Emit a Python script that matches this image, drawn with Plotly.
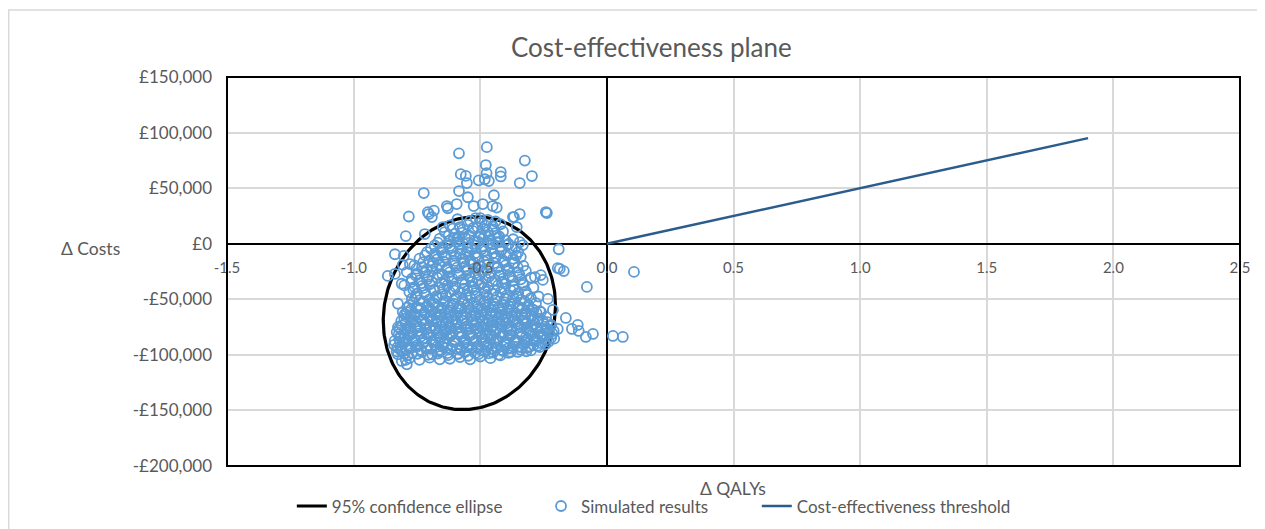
import numpy as np
import plotly.graph_objects as go

# ----------------------------------------------------------------------------
# Data
# ----------------------------------------------------------------------------
x_tick_vals = [-1.5, -1.0, -0.5, 0.0, 0.5, 1.0, 1.5, 2.0, 2.5]
x_tick_text = ["-1.5", "-1.0", "-0.5", "0.0", "0.5", "1.0", "1.5", "2.0", "2.5"]
y_tick_vals = [150000, 100000, 50000, 0, -50000, -100000, -150000, -200000]
y_tick_text = ["£150,000", "£100,000", "£50,000", "£0",
               "-£50,000", "-£100,000", "-£150,000", "-£200,000"]

# cost-effectiveness threshold (£50,000 per QALY)
threshold_qalys = [0.0, 1.9]
threshold_costs = [0, 95000]

# 95% confidence ellipse: centre, half-widths and correlation
ellipse_centre_qaly = -0.543
ellipse_centre_cost = -62500
ellipse_qaly_radius = 0.34
ellipse_cost_radius = 86750
ellipse_correlation = 0.08

# simulated results - dense core (QALY, cost)
sim_core = [
    (-0.81, -105500), (-0.78, -103000), (-0.74, -104500), (-0.70, -102500), (-0.66, -104000),
    (-0.62, -103500), (-0.58, -102000), (-0.54, -104000), (-0.50, -101500), (-0.46, -103000),
    (-0.42, -100500), (-0.79, -108500),
    (-0.83, -97000), (-0.80, -99000), (-0.77, -98500), (-0.73, -97500), (-0.69, -99500),
    (-0.66, -97000), (-0.63, -98500), (-0.59, -99000), (-0.56, -97500), (-0.52, -98500),
    (-0.48, -97000), (-0.45, -98000), (-0.41, -96500), (-0.38, -97500), (-0.34, -95500),
    (-0.30, -96000),
    (-0.815, -95500), (-0.775, -94000), (-0.735, -95500), (-0.695, -94500), (-0.655, -96000),
    (-0.615, -94500), (-0.575, -95500), (-0.535, -94000), (-0.495, -96000), (-0.455, -94500),
    (-0.415, -95500), (-0.375, -94000), (-0.335, -93500), (-0.305, -92500), (-0.265, -93000),
    (-0.84, -91000), (-0.81, -93000), (-0.78, -92500), (-0.75, -91500), (-0.71, -93000),
    (-0.68, -91000), (-0.65, -92500), (-0.61, -92000), (-0.58, -93500), (-0.55, -91000),
    (-0.51, -92500), (-0.47, -91500), (-0.44, -93000), (-0.40, -91000), (-0.37, -92500),
    (-0.33, -90500), (-0.29, -91500), (-0.26, -89500), (-0.23, -88000),
    (-0.805, -89500), (-0.765, -88000), (-0.725, -89500), (-0.685, -88500), (-0.645, -90000),
    (-0.605, -88500), (-0.565, -89500), (-0.525, -88000), (-0.485, -90000), (-0.445, -88500),
    (-0.405, -89500), (-0.365, -88000), (-0.325, -89000), (-0.285, -87500),
    (-0.82, -85500), (-0.79, -87000), (-0.76, -86000), (-0.72, -85000), (-0.69, -87500),
    (-0.66, -86500), (-0.63, -85000), (-0.60, -87000), (-0.56, -86000), (-0.53, -84500),
    (-0.49, -86500), (-0.46, -85500), (-0.43, -87000), (-0.39, -85000), (-0.36, -86500),
    (-0.32, -84000), (-0.28, -85500), (-0.25, -83500), (-0.22, -84500),
    (-0.815, -83500), (-0.775, -82000), (-0.735, -83500), (-0.695, -82500), (-0.655, -84000),
    (-0.615, -82500), (-0.575, -83500), (-0.535, -82000), (-0.495, -84000), (-0.455, -82500),
    (-0.415, -83500), (-0.375, -82000), (-0.335, -83000), (-0.295, -81500), (-0.255, -82500),
    (-0.215, -81000),
    (-0.83, -79500), (-0.80, -81000), (-0.77, -80000), (-0.74, -78500), (-0.71, -81500),
    (-0.67, -80500), (-0.64, -79000), (-0.61, -81000), (-0.58, -79500), (-0.54, -80500),
    (-0.51, -78500), (-0.48, -81000), (-0.44, -79500), (-0.41, -80500), (-0.38, -78000),
    (-0.34, -80000), (-0.31, -78500), (-0.27, -79500), (-0.24, -77500), (-0.21, -78500),
    (-0.795, -77500), (-0.755, -76000), (-0.715, -77500), (-0.675, -76500), (-0.635, -78000),
    (-0.595, -76500), (-0.555, -77500), (-0.515, -76000), (-0.475, -78000), (-0.435, -76500),
    (-0.395, -77500), (-0.355, -76000), (-0.315, -77000), (-0.275, -75500), (-0.235, -76500),
    (-0.81, -73500), (-0.78, -75000), (-0.75, -74000), (-0.72, -72500), (-0.68, -75500),
    (-0.65, -73500), (-0.62, -74500), (-0.59, -72500), (-0.55, -74500), (-0.52, -73000),
    (-0.49, -75000), (-0.45, -73500), (-0.42, -72000), (-0.39, -74500), (-0.35, -73000),
    (-0.32, -71500), (-0.29, -73500), (-0.25, -72000), (-0.22, -73000),
    (-0.795, -71500), (-0.755, -70000), (-0.715, -71500), (-0.675, -70500), (-0.635, -72000),
    (-0.595, -70500), (-0.555, -71500), (-0.515, -70000), (-0.475, -72000), (-0.435, -70500),
    (-0.395, -71500), (-0.355, -70000), (-0.315, -71000), (-0.275, -69500), (-0.235, -70500),
    (-0.80, -67500), (-0.77, -69000), (-0.73, -68000), (-0.70, -66500), (-0.67, -69500),
    (-0.63, -67500), (-0.60, -68500), (-0.57, -66500), (-0.53, -68500), (-0.50, -67000),
    (-0.47, -69000), (-0.43, -67500), (-0.40, -66000), (-0.37, -68500), (-0.33, -67000),
    (-0.30, -65500), (-0.27, -67500), (-0.24, -66000),
    (-0.775, -65500), (-0.735, -64000), (-0.695, -65500), (-0.655, -64500), (-0.615, -66000),
    (-0.575, -64500), (-0.535, -65500), (-0.495, -64000), (-0.455, -66000), (-0.415, -64500),
    (-0.375, -65500), (-0.335, -64000), (-0.295, -65000),
    (-0.79, -61500), (-0.76, -63000), (-0.72, -62000), (-0.69, -60500), (-0.66, -63500),
    (-0.62, -61500), (-0.59, -62500), (-0.56, -60500), (-0.52, -62500), (-0.49, -61000),
    (-0.46, -63000), (-0.42, -61500), (-0.39, -60000), (-0.36, -62500), (-0.32, -61000),
    (-0.29, -59500), (-0.26, -61500),
    (-0.775, -59500), (-0.735, -58000), (-0.695, -59500), (-0.655, -58500), (-0.615, -60000),
    (-0.575, -58500), (-0.535, -59500), (-0.495, -58000), (-0.455, -60000), (-0.415, -58500),
    (-0.375, -59500), (-0.335, -58000), (-0.295, -59000),
    (-0.78, -55500), (-0.75, -57000), (-0.71, -56000), (-0.68, -54500), (-0.65, -57500),
    (-0.61, -55500), (-0.58, -56500), (-0.55, -54500), (-0.51, -56500), (-0.48, -55000),
    (-0.45, -57000), (-0.41, -55500), (-0.38, -54000), (-0.35, -56500), (-0.31, -55000),
    (-0.28, -53500),
    (-0.765, -53000), (-0.725, -52000), (-0.685, -53500), (-0.645, -52500), (-0.605, -54000),
    (-0.565, -52500), (-0.525, -53500), (-0.485, -52000), (-0.445, -54000), (-0.405, -52500),
    (-0.365, -53500), (-0.325, -52000),
    (-0.77, -49500), (-0.74, -51000), (-0.70, -50000), (-0.67, -48500), (-0.64, -51500),
    (-0.60, -49500), (-0.57, -50500), (-0.54, -48500), (-0.50, -50500), (-0.47, -49000),
    (-0.44, -51000), (-0.40, -49500), (-0.37, -48000), (-0.34, -50500), (-0.30, -49000),
    (-0.27, -47500),
    (-0.755, -47500), (-0.715, -46000), (-0.675, -47500), (-0.635, -46500), (-0.595, -48000),
    (-0.555, -46500), (-0.515, -47500), (-0.475, -46000), (-0.435, -48000), (-0.395, -46500),
    (-0.355, -47500), (-0.315, -46000),
    (-0.78, -43500), (-0.75, -45000), (-0.72, -44000), (-0.68, -42500), (-0.65, -45500),
    (-0.62, -43500), (-0.58, -44500), (-0.55, -42500), (-0.52, -44500), (-0.48, -43000),
    (-0.45, -45000), (-0.42, -43500), (-0.38, -42000), (-0.35, -44500), (-0.32, -43000),
    (-0.765, -41000), (-0.725, -40000), (-0.685, -41500), (-0.645, -40500), (-0.605, -42000),
    (-0.565, -40500), (-0.525, -41500), (-0.485, -40000), (-0.445, -42000), (-0.405, -40500),
    (-0.365, -41500),
    (-0.80, -37500), (-0.76, -39000), (-0.73, -38000), (-0.70, -36500), (-0.66, -39500),
    (-0.63, -37500), (-0.60, -38500), (-0.56, -36500), (-0.53, -38500), (-0.50, -37000),
    (-0.47, -39000), (-0.43, -37500), (-0.40, -36000), (-0.37, -38500), (-0.33, -37000),
    (-0.29, -39500),
    (-0.77, -31500), (-0.74, -33000), (-0.71, -32000), (-0.67, -30500), (-0.64, -33500),
    (-0.61, -31500), (-0.57, -32500), (-0.54, -30500), (-0.51, -32500), (-0.48, -31000),
    (-0.44, -33000), (-0.41, -31500), (-0.38, -30000), (-0.34, -32000), (-0.30, -30500),
    (-0.755, -28500), (-0.705, -29500), (-0.665, -28000), (-0.625, -29500), (-0.585, -28500),
    (-0.545, -29000), (-0.505, -28000), (-0.465, -29500), (-0.425, -28500), (-0.385, -29000),
    (-0.345, -28000),
    (-0.79, -25500), (-0.75, -27000), (-0.72, -26000), (-0.69, -24500), (-0.65, -27500),
    (-0.62, -25500), (-0.59, -26500), (-0.55, -24500), (-0.52, -26500), (-0.49, -25000),
    (-0.46, -27000), (-0.42, -25500), (-0.39, -24000), (-0.35, -26000), (-0.32, -24500),
    (-0.76, -19500), (-0.73, -21000), (-0.69, -20000), (-0.66, -18500), (-0.63, -21500),
    (-0.60, -19500), (-0.56, -20500), (-0.53, -18500), (-0.50, -20500), (-0.47, -19000),
    (-0.43, -21000), (-0.40, -19500), (-0.37, -18000), (-0.33, -20000),
    (-0.725, -16500), (-0.685, -17500), (-0.645, -16000), (-0.605, -17500), (-0.565, -16500),
    (-0.525, -17000), (-0.485, -16000), (-0.445, -17500), (-0.405, -16500), (-0.365, -17000),
    (-0.74, -13500), (-0.70, -15000), (-0.67, -14000), (-0.64, -12500), (-0.60, -15500),
    (-0.57, -13500), (-0.54, -14500), (-0.51, -12500), (-0.47, -14500), (-0.44, -13000),
    (-0.41, -15000), (-0.37, -13500), (-0.34, -12000),
    (-0.71, -7500), (-0.68, -9000), (-0.65, -8000), (-0.61, -6500), (-0.58, -9500),
    (-0.55, -7500), (-0.52, -8500), (-0.48, -6500), (-0.45, -8500), (-0.42, -7000),
    (-0.39, -9000), (-0.35, -7500),
    (-0.695, -4500), (-0.655, -5500), (-0.615, -4000), (-0.575, -5500), (-0.535, -4500),
    (-0.495, -5000), (-0.455, -4000), (-0.415, -5500), (-0.375, -4500),
    (-0.68, -1500), (-0.65, -3000), (-0.62, -2000), (-0.58, -500), (-0.55, -3500),
    (-0.52, -1500), (-0.49, -2500), (-0.45, -500), (-0.42, -2500), (-0.39, -1000),
    (-0.36, -3000),
    (-0.66, 4500), (-0.62, 3000), (-0.59, 4000), (-0.56, 5500), (-0.52, 2500),
    (-0.49, 4500), (-0.46, 3500), (-0.43, 5500), (-0.40, 3000), (-0.37, 4000),
    (-0.625, 7000), (-0.585, 6500), (-0.545, 7500), (-0.505, 6000), (-0.465, 7500),
    (-0.425, 6500),
    (-0.64, 10500), (-0.60, 9000), (-0.57, 10000), (-0.53, 11500), (-0.50, 8500),
    (-0.47, 10500), (-0.44, 9500), (-0.41, 11000),
    (-0.62, 16500), (-0.58, 15000), (-0.55, 17000), (-0.51, 14500), (-0.48, 16500),
    (-0.45, 15500), (-0.42, 17500),
    (-0.59, 22000), (-0.54, 20500), (-0.50, 23000), (-0.47, 21500), (-0.44, 20000),
]

# simulated results - further points filling the densest part of the cloud
sim_fill = [
    (-0.825, -99500), (-0.787, -100500), (-0.748, -99000), (-0.706, -100000), (-0.668, -98800),
    (-0.627, -100300), (-0.588, -99200), (-0.548, -100800), (-0.507, -99400), (-0.468, -98600),
    (-0.428, -99800), (-0.388, -98200), (-0.352, -97400), (-0.318, -96800),
    (-0.828, -93500), (-0.792, -94500), (-0.752, -93000), (-0.712, -94200), (-0.672, -92800),
    (-0.632, -93800), (-0.592, -94600), (-0.552, -93200), (-0.512, -94000), (-0.472, -92600),
    (-0.432, -93600), (-0.392, -94400), (-0.352, -92900), (-0.312, -93700), (-0.272, -91800),
    (-0.242, -90500),
    (-0.838, -87500), (-0.798, -88400), (-0.758, -86900), (-0.718, -87800), (-0.678, -86600),
    (-0.638, -88100), (-0.598, -87200), (-0.558, -88600), (-0.518, -86800), (-0.478, -87700),
    (-0.438, -86400), (-0.398, -88200), (-0.358, -87000), (-0.318, -86300), (-0.278, -87900),
    (-0.238, -86100), (-0.208, -85400),
    (-0.822, -81500), (-0.782, -82400), (-0.742, -80900), (-0.702, -81800), (-0.662, -80600),
    (-0.622, -82100), (-0.582, -81200), (-0.542, -82600), (-0.502, -80800), (-0.462, -81700),
    (-0.422, -80400), (-0.382, -82200), (-0.342, -81000), (-0.302, -80300), (-0.262, -81900),
    (-0.228, -80100),
    (-0.818, -75500), (-0.778, -76400), (-0.738, -74900), (-0.698, -75800), (-0.658, -74600),
    (-0.618, -76100), (-0.578, -75200), (-0.538, -76600), (-0.498, -74800), (-0.458, -75700),
    (-0.418, -74400), (-0.378, -76200), (-0.338, -75000), (-0.298, -74300), (-0.258, -75900),
    (-0.222, -74100),
    (-0.812, -69500), (-0.772, -70400), (-0.732, -68900), (-0.692, -69800), (-0.652, -68600),
    (-0.612, -70100), (-0.572, -69200), (-0.532, -70600), (-0.492, -68800), (-0.452, -69700),
    (-0.412, -68400), (-0.372, -70200), (-0.332, -69000), (-0.292, -68300), (-0.252, -69900),
    (-0.798, -63500), (-0.758, -64400), (-0.718, -62900), (-0.678, -63800), (-0.638, -62600),
    (-0.598, -64100), (-0.558, -63200), (-0.518, -64600), (-0.478, -62800), (-0.438, -63700),
    (-0.398, -62400), (-0.358, -64200), (-0.318, -63000), (-0.278, -62300),
    (-0.788, -57500), (-0.748, -58400), (-0.708, -56900), (-0.668, -57800), (-0.628, -56600),
    (-0.588, -58100), (-0.548, -57200), (-0.508, -58600), (-0.468, -56800), (-0.428, -57700),
    (-0.388, -56400), (-0.348, -58200), (-0.308, -57000),
    (-0.772, -34500), (-0.732, -35400), (-0.692, -33900), (-0.652, -34800), (-0.612, -33600),
    (-0.572, -35100), (-0.532, -34200), (-0.492, -35600), (-0.452, -33800), (-0.412, -34700),
    (-0.372, -33400), (-0.332, -35200),
    (-0.752, -22500), (-0.712, -23400), (-0.672, -21900), (-0.632, -22800), (-0.592, -21600),
    (-0.552, -23100), (-0.512, -22200), (-0.472, -23600), (-0.432, -21800), (-0.392, -22700),
    (-0.352, -21400),
    (-0.718, -10500), (-0.678, -11400), (-0.638, -9900), (-0.598, -10800), (-0.558, -9600),
    (-0.518, -11100), (-0.478, -10200), (-0.438, -11600), (-0.398, -9800), (-0.358, -10700),
    (-0.668, 1000), (-0.628, 100), (-0.588, 1600), (-0.548, 700), (-0.508, 1900),
    (-0.468, 400), (-0.428, 1300), (-0.388, -200),
    (-0.608, 13500), (-0.568, 12600), (-0.528, 14100), (-0.488, 13200), (-0.448, 12800),
]

# simulated results - scattered tail points (QALY, cost)
sim_tails = [
    (-0.584, 81300), (-0.474, 86900), (-0.478, 70800), (-0.324, 74800), (-0.577, 62600),
    (-0.557, 61000), (-0.475, 63500), (-0.419, 64500), (-0.419, 60500), (-0.296, 60900),
    (-0.344, 54600), (-0.553, 54600), (-0.506, 57000), (-0.482, 58000), (-0.466, 56400),
    (-0.584, 47400), (-0.723, 45600), (-0.446, 43600), (-0.549, 41800), (-0.632, 33900),
    (-0.593, 35700), (-0.526, 33900), (-0.490, 35700), (-0.451, 33900), (-0.435, 32500),
    (-0.703, 26700), (-0.691, 24000), (-0.683, 29800), (-0.782, 24500), (-0.344, 26700),
    (-0.367, 24000), (-0.241, 28500), (-0.518, 23100), (-0.494, 19500), (-0.648, 15000),
    (-0.794, 6900), (-0.719, 8700), (-0.604, 5100), (-0.344, 1500), (-0.438, 1500),
    (-0.332, -1200), (-0.190, -5000), (-0.865, -29000), (-0.837, -9500), (-0.802, -11000),
    (-0.806, -19000), (-0.778, -18300), (-0.837, -27200), (-0.810, -36000), (-0.825, -54000),
    (-0.806, -61500), (-0.825, -75000), (-0.817, -88500), (-0.810, -96600), (-0.794, -104500),
    (-0.186, -22700), (-0.170, -24600), (-0.079, -38900), (0.107, -25400), (-0.194, -21900),
    (-0.284, -30000), (-0.261, -28200), (-0.253, -32600), (-0.233, -49700), (-0.213, -59600),
    (-0.162, -66800), (-0.194, -76700), (-0.138, -76700), (-0.115, -73100), (-0.111, -78500),
    (-0.083, -83900), (-0.055, -81200), (0.024, -83000), (0.063, -83900), (-0.265, -60600),
    (-0.356, 15000), (-0.371, 24000), (-0.237, 27600), (-0.707, 28400), (-0.628, 31900),
]

# ----------------------------------------------------------------------------
GREY_TEXT = "#595959"
FONT = "Lato, 'Liberation Sans', sans-serif"

sim_points = sim_core + sim_fill + sim_tails
sim_qalys = [p[0] for p in sim_points]
sim_costs = [p[1] for p in sim_points]

# correlation ellipse: x = cx + rx cos t, y = cy + ry cos(t - acos(rho))
t = np.linspace(0, 2 * np.pi, 241)
phase = np.arccos(ellipse_correlation)
ell_x = ellipse_centre_qaly + ellipse_qaly_radius * np.cos(t)
ell_y = ellipse_centre_cost + ellipse_cost_radius * np.cos(t - phase)

fig = go.Figure()

fig.add_trace(go.Scatter(
    x=ell_x, y=ell_y, mode="lines", name="95% confidence ellipse",
    line=dict(color="black", width=3.2), legend="legend", hoverinfo="skip",
))
fig.add_trace(go.Scatter(
    x=sim_qalys, y=sim_costs, mode="markers", name="Simulated results",
    marker=dict(symbol="circle-open", size=10, color="#5b9bd5", line=dict(width=1.8)),
    legend="legend2",
))
fig.add_trace(go.Scatter(
    x=threshold_qalys, y=threshold_costs, mode="lines", name="Cost-effectiveness threshold",
    line=dict(color="#2a5c8c", width=2.5), legend="legend3",
))

legend_common = dict(orientation="h", yanchor="middle", xanchor="left",
                     bgcolor="rgba(0,0,0,0)", font=dict(family=FONT, size=17, color=GREY_TEXT))
Y_ZERO = 200000 / 350000  # fraction of plot height where cost = 0


def label(text, x, y, size):
    return dict(text=text, xref="paper", yref="paper", x=x, y=y,
                xanchor="center", yanchor="middle", showarrow=False,
                font=dict(size=size, color=GREY_TEXT))


fig.update_layout(
    width=1265, height=529,
    margin=dict(l=219, r=33, t=69, b=71),
    paper_bgcolor="white", plot_bgcolor="white",
    font=dict(family=FONT, size=15, color=GREY_TEXT),
    showlegend=True,
    legend=dict(x=0.064, y=-0.104, **legend_common),
    legend2=dict(x=0.31, y=-0.104, **legend_common),
    legend3=dict(x=0.523, y=-0.104, **legend_common),
    xaxis=dict(
        range=[-1.5, 2.5], tickvals=x_tick_vals, ticktext=x_tick_text,
        anchor="free", position=Y_ZERO, showline=False, ticks="",
        ticklabelstandoff=13,
        showgrid=True, gridcolor="#d9d9d9", gridwidth=1.5,
        zeroline=True, zerolinecolor="black", zerolinewidth=2,
        tickfont=dict(size=15, color=GREY_TEXT),
    ),
    yaxis=dict(
        range=[-200000, 150000], tickvals=y_tick_vals, ticktext=y_tick_text,
        domain=[0, 1], showline=False, ticks="",
        ticklabelstandoff=14,
        showgrid=True, gridcolor="#d9d9d9", gridwidth=1.5,
        zeroline=True, zerolinecolor="black", zerolinewidth=2,
        tickfont=dict(size=17, color=GREY_TEXT),
    ),
    shapes=[
        # plot area border
        dict(type="rect", xref="paper", yref="paper", x0=0, x1=1, y0=0, y1=1,
             line=dict(color="black", width=2), layer="above"),
        # chart area border (right and bottom edges run off the page)
        dict(type="rect", xref="paper", yref="paper", x0=-0.2155, x1=1.08, y0=-0.25, y1=1.172,
             line=dict(color="#d9d9d9", width=1.5)),
    ],
    annotations=[
        label("Cost-effectiveness plane", 0.4195, 1.077, 26),
        label("Δ Costs", -0.135, 0.558, 17.5),
        label("Δ QALYs", 0.4995, -0.059, 17.5),
    ],
)

fig.write_html("out.html")
